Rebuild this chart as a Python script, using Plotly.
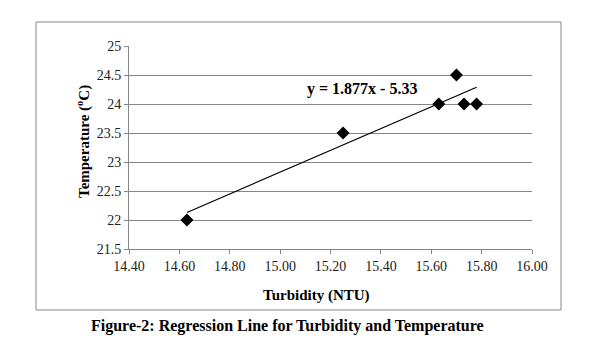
import plotly.graph_objects as go

turbidity = [14.63, 15.25, 15.63, 15.70, 15.73, 15.78]
temperature = [22.0, 23.5, 24.0, 24.5, 24.0, 24.0]
slope = 1.877
intercept = -5.33
x_ticks = [14.40, 14.60, 14.80, 15.00, 15.20, 15.40, 15.60, 15.80, 16.00]
y_ticks = [21.5, 22, 22.5, 23, 23.5, 24, 24.5, 25]

# page offset from default body margin
O = 8
W, H = 593 - O, 355 - O
L, R, T, B = 129 - O, 532 - O, 46 - O, 249 - O

FONT = "Liberation Serif, Times New Roman, serif"

fig = go.Figure()
x_line = [min(turbidity), max(turbidity)]
y_line = [slope * v + intercept for v in x_line]
fig.add_trace(go.Scatter(x=x_line, y=y_line, mode="lines",
                         line=dict(color="black", width=1.2), hoverinfo="skip"))
fig.add_trace(go.Scatter(x=turbidity, y=temperature, mode="markers",
                         marker=dict(symbol="diamond", size=10, color="black")))

pw, ph = R - L, B - T
def px(x):
    return (x - O - L) / pw
def py(y):
    return (B - (y - O)) / ph

def ann(text, x, y, size, angle=0):
    return dict(text=text, xref="paper", yref="paper", x=px(x), y=py(y),
                xanchor="center", yanchor="middle", showarrow=False,
                textangle=angle, font=dict(family=FONT, size=size, color="black"))

fig.update_layout(
    width=W, height=H,
    margin=dict(l=L, r=W - R, t=T, b=H - B),
    paper_bgcolor="white", plot_bgcolor="white",
    showlegend=False,
    font=dict(family=FONT, size=14, color="#222"),
    xaxis=dict(range=[14.40, 16.00], tickvals=x_ticks,
               ticktext=[f"{v:.2f}" for v in x_ticks],
               showgrid=False, zeroline=False, showline=True, linecolor="#868686", linewidth=1,
               ticks="outside", ticklen=4, tickcolor="#868686",
               tickfont=dict(family=FONT, size=14, color="#222")),
    yaxis=dict(range=[21.5, 25], tickvals=y_ticks,
               ticktext=[f"{v:g}" for v in y_ticks],
               showgrid=True, gridcolor="#868686", gridwidth=1, zeroline=False,
               showline=True, linecolor="#868686", linewidth=1,
               ticks="outside", ticklen=4, tickcolor="#868686",
               tickfont=dict(family=FONT, size=14, color="#222")),
    shapes=[dict(type="rect", xref="paper", yref="paper",
                 x0=px(36), x1=px(561), y0=py(310), y1=py(22),
                 line=dict(color="#868686", width=1), fillcolor="rgba(0,0,0,0)")],
    annotations=[
        ann("<b>y = 1.877x - 5.33</b>", 362, 89, 16),
        ann("<b>Turbidity (NTU)</b>", 316, 295, 15),
        ann("<b>Temperature (<sup>o</sup>C)</b>", 83, 142, 15, -90),
        ann("<b>Figure-2: Regression Line for Turbidity and Temperature</b>", 287, 326, 16),
    ],
)

fig.write_html("out.html")
